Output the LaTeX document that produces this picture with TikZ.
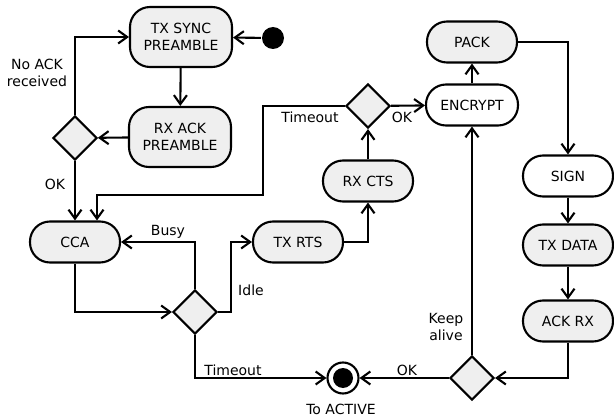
\documentclass[tikz,border=0pt]{standalone}
\usepackage{fontspec}
\setmainfont{DejaVu Sans}
\usetikzlibrary{shapes.geometric,arrows.meta}
\definecolor{nodefill}{HTML}{EFEFEF}
\begin{document}
\begin{tikzpicture}[x=1pt,y=-1pt,
  font=\fontsize{14}{17}\selectfont,
  line width=2.1pt,
  state/.style={draw,rounded corners=20pt,minimum width=90pt,minimum height=41pt,align=center,inner sep=2pt},
  gstate/.style={state,fill=nodefill},
  wstate/.style={state,fill=white},
  choice/.style={draw,diamond,aspect=1,fill=nodefill,minimum width=44pt,minimum height=44pt,inner sep=0pt},
  arr/.style={-{Straight Barb[length=9pt,width=13pt,line width=2.1pt]}},
  lbl/.style={inner sep=0pt,align=center}]
\path[use as bounding box] (0,0) rectangle (614,420);

% nodes
\node[gstate,minimum width=102pt,minimum height=60pt] (txsync) at (181,37) {TX SYNC\\PREAMBLE};
\node[circle,fill=black,minimum size=22pt,inner sep=0pt] (start) at (273,38) {};
\node[gstate,minimum width=102pt,minimum height=60pt] (rxack) at (180,137) {RX ACK\\PREAMBLE};
\node[choice] (d1) at (75,138) {};
\node[gstate] (cca) at (75,242) {CCA};
\node[choice] (d3) at (195,312) {};
\node[gstate] (txrts) at (298,242) {TX RTS};
\node[gstate] (rxcts) at (368,181) {RX CTS};
\node[choice] (d2) at (368,106) {};
\node[wstate,minimum width=92pt] (encrypt) at (472,105) {ENCRYPT};
\node[gstate] (pack) at (472,42) {PACK};
\node[wstate] (sign) at (568,176) {SIGN};
\node[gstate] (txdata) at (568,245) {TX DATA};
\node[gstate] (ackrx) at (568,321) {ACK RX};
\node[choice] (d4) at (472,378) {};
\node[circle,draw,fill=white,minimum size=31pt,inner sep=0pt] (final) at (343,378) {};
\node[circle,fill=black,minimum size=20pt,inner sep=0pt] (finalin) at (343,378) {};

\coordinate (t1) at (263,195);
\coordinate (ccaIn) at ([xshift=22pt]cca.north);

% connectors
\draw[arr] (start) -- (txsync);
\draw[arr] (txsync) -- (rxack);
\draw[arr] (rxack) -- (d1);
\draw[arr] (d1.north) |- (txsync.west);
\draw[arr] (d1) -- (cca);
\draw[arr] (d2.west) -| (t1) -| (ccaIn);
\draw[arr] (cca.south) |- (d3.west);
\draw[arr] (d3.north) |- (cca.east);
\draw[arr] (d3.east) -- ++(13,0) |- (txrts.west);
\draw[arr] (d3.south) |- (final.west);
\draw[arr] (txrts.east) -| (rxcts.south);
\draw[arr] (rxcts) -- (d2);
\draw[arr] (d2) -- (encrypt);
\draw[arr] (encrypt) -- (pack);
\draw[arr] (pack.east) -| (sign.north);
\draw[arr] (sign) -- (txdata);
\draw[arr] (txdata) -- (ackrx);
\draw[arr] (ackrx.south) |- (d4.east);
\draw[arr] (d4) -- (final);
\draw[arr] (d4.north) -- (encrypt.south);

% labels
\node[lbl] (l1) at (37,73) {No ACK\\received};
\node[lbl] (l2) at (55,184) {OK};
\node[lbl] (l3) at (310,117) {Timeout};
\node[lbl] (l4) at (402,117) {OK};
\node[lbl] (l5) at (168,232) {Busy};
\node[lbl] (l6) at (251,290) {Idle};
\node[lbl] (l7) at (233,370) {Timeout};
\node[lbl] (l8) at (407,370) {OK};
\node[lbl] (l9) at (446,327) {Keep\\alive};
\node[lbl] (l10) at (341,409) {To ACTIVE};
\end{tikzpicture}
\end{document}
